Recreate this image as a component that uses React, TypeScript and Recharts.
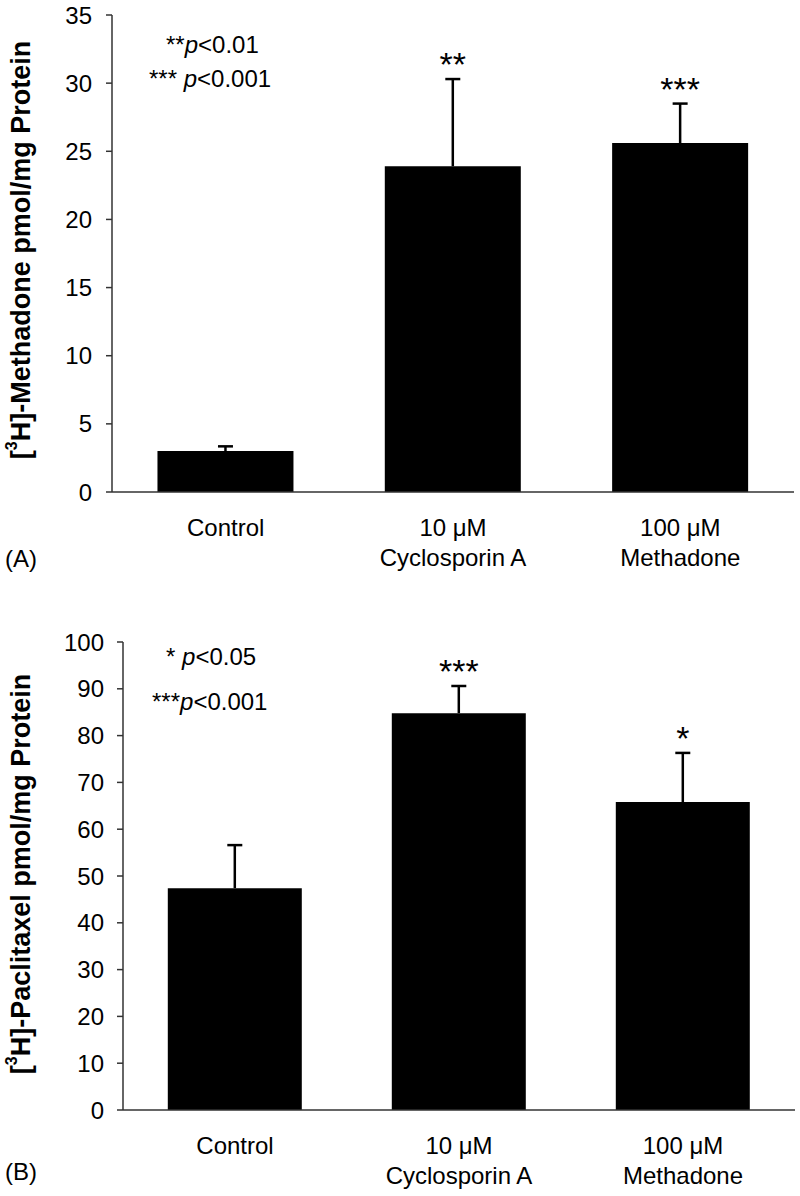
import React from 'react';
import { ComposedChart, Bar, XAxis, YAxis, LabelList } from 'recharts';

const categories = ['Control', '10 μM\nCyclosporin A', '100 μM\nMethadone'];

const methadoneMeans = [3.0, 23.9, 25.6];
const methadoneErrors = [0.35, 6.4, 2.9];
const methadoneStars = ['', '**', '***'];
const methadoneTicks = [0, 5, 10, 15, 20, 25, 30, 35];

const paclitaxelMeans = [47.4, 84.8, 65.8];
const paclitaxelErrors = [9.2, 5.8, 10.5];
const paclitaxelStars = ['', '***', '*'];
const paclitaxelTicks = [0, 10, 20, 30, 40, 50, 60, 70, 80, 90, 100];

const FONT = '"Liberation Sans", Arial, Helvetica, sans-serif';

type Row = { name: string; mean: number; errVal: number; stars: string };

const buildRows = (means: number[], errors: number[], stars: string[]): Row[] =>
  categories.map((name, i) => ({
    name,
    mean: means[i],
    errVal: errors[i],
    stars: stars[i],
  }));

const methadoneRows = buildRows(methadoneMeans, methadoneErrors, methadoneStars);
const paclitaxelRows = buildRows(paclitaxelMeans, paclitaxelErrors, paclitaxelStars);

const CategoryTick = (props: any) => {
  const { x, y, payload } = props;
  const lines = String(payload.value).split('\n');
  return (
    <g>
      {lines.map((line, i) => (
        <text
          key={i}
          x={x}
          y={y + 44 + i * 30}
          textAnchor="middle"
          fontFamily={FONT}
          fontSize={24}
          fill="#000"
        >
          {line}
        </text>
      ))}
    </g>
  );
};

// error bar (upper only) + significance stars, placed through the bar's own scale
const makeErrLabel = (rows: Row[]) => (props: any) => {
  const { x, y, width, height, index } = props;
  const row = rows[index];
  if (!row) return null;
  const px = Number(height) / row.mean;
  const top = Number(y);
  const errTop = top - row.errVal * px;
  const cx = Number(x) + Number(width) / 2;
  return (
    <g>
      <line x1={cx} x2={cx} y1={top} y2={errTop} stroke="#000" strokeWidth={2.5} />
      <line x1={cx - 7.5} x2={cx + 7.5} y1={errTop} y2={errTop} stroke="#000" strokeWidth={2.5} />
      {row.stars ? (
        <text x={cx} y={errTop - 3} textAnchor="middle" fontFamily={FONT} fontSize={34} fill="#000">
          {row.stars}
        </text>
      ) : null}
    </g>
  );
};

type PanelProps = {
  rows: Row[];
  ticks: number[];
  max: number;
  height: number;
  marginTop: number;
  marginRight: number;
  yWidth: number;
  xHeight: number;
  tickMargin: number;
};

const Panel = ({ rows, ticks, max, height, marginTop, marginRight, yWidth, xHeight, tickMargin }: PanelProps) => (
  <ComposedChart
    width={800}
    height={height}
    data={rows}
    margin={{ top: marginTop, right: marginRight, left: 0, bottom: 0 }}
    barCategoryGap="20%"
  >
    <XAxis
      dataKey="name"
      type="category"
      interval={0}
      tickLine={false}
      tickSize={0}
      tickMargin={0}
      height={xHeight}
      axisLine={{ stroke: '#333', strokeWidth: 1.5 }}
      tick={<CategoryTick />}
    />
    <YAxis
      type="number"
      domain={[0, max]}
      ticks={ticks}
      interval={0}
      width={yWidth}
      tickSize={6}
      tickMargin={tickMargin}
      axisLine={{ stroke: '#333', strokeWidth: 1.5 }}
      tickLine={{ stroke: '#333', strokeWidth: 1.5 }}
      tick={{ fontFamily: FONT, fontSize: 24, fill: '#000' }}
    />
    <Bar dataKey="mean" fill="#000" isAnimationActive={false}>
      <LabelList dataKey="mean" content={makeErrLabel(rows)} />
    </Bar>
  </ComposedChart>
);

const Overlay = () => (
  <svg
    width={800}
    height={1196}
    style={{ position: 'absolute', left: 0, top: 0, pointerEvents: 'none' }}
  >
    <g fontFamily={FONT} fill="#000">
      <text transform="translate(21,250) rotate(-90)" textAnchor="middle" dominantBaseline="central" fontSize={27} fontWeight="bold">
        [<tspan fontSize={16} dy={-10}>3</tspan>
        <tspan dy={10}>H]-Methadone pmol/mg Protein</tspan>
      </text>
      <text transform="translate(21,874) rotate(-90)" textAnchor="middle" dominantBaseline="central" fontSize={27} fontWeight="bold">
        [<tspan fontSize={16} dy={-10}>3</tspan>
        <tspan dy={10}>H]-Paclitaxel pmol/mg Protein</tspan>
      </text>

      <text x={5} y={567} fontSize={24}>(A)</text>
      <text x={5} y={1180} fontSize={24}>(B)</text>

      <text x={166} y={53} fontSize={24}>
        **<tspan fontStyle="italic">p</tspan>&lt;0.01
      </text>
      <text x={149} y={87} fontSize={24}>
        ***<tspan> </tspan><tspan fontStyle="italic">p</tspan>&lt;0.001
      </text>

      <text x={166} y={665} fontSize={24}>
        *<tspan> </tspan><tspan fontStyle="italic">p</tspan>&lt;0.05
      </text>
      <text x={152} y={710} fontSize={24}>
        ***<tspan fontStyle="italic">p</tspan>&lt;0.001
      </text>
    </g>
  </svg>
);

export default function App() {
  return (
    <div style={{ position: 'absolute', left: 0, top: 0, width: 800, height: 1196, background: '#fff' }}>
      <div style={{ position: 'absolute', left: 0, top: 0 }}>
        <Panel
          rows={methadoneRows}
          ticks={methadoneTicks}
          max={35}
          height={580}
          marginTop={15}
          marginRight={6}
          yWidth={112}
          xHeight={88}
          tickMargin={14}
        />
      </div>
      <div style={{ position: 'absolute', left: 0, top: 600 }}>
        <Panel
          rows={paclitaxelRows}
          ticks={paclitaxelTicks}
          max={100}
          height={596}
          marginTop={42}
          marginRight={5}
          yWidth={123}
          xHeight={86}
          tickMargin={13}
        />
      </div>
      <Overlay />
    </div>
  );
}
